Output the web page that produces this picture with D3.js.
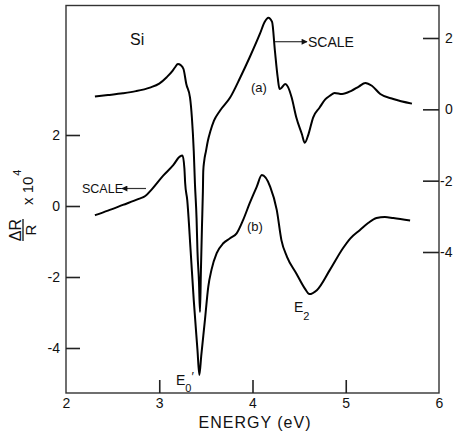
<!DOCTYPE html>
<html>
<head>
<meta charset="utf-8">
<script src="https://cdn.jsdelivr.net/npm/d3@7"></script>
<style>
  html, body { margin: 0; padding: 0; background: #fff; }
  svg { display: block; }
  text { font-family: "Liberation Sans", Arial, sans-serif; fill: #111; }
</style>
</head>
<body>
<svg id="chart" width="464" height="433"></svg>
<script>
// ---- data ----
// curve (a): read against the right-hand axis
const energyA = [2.31, 2.45, 2.61, 2.75, 2.90, 3.00, 3.08, 3.14, 3.17, 3.20, 3.23, 3.26, 3.29, 3.33, 3.35, 3.37, 3.383, 3.40, 3.41, 3.426, 3.437, 3.447, 3.458, 3.468, 3.472, 3.482, 3.501, 3.521, 3.549, 3.587, 3.651, 3.76, 3.87, 3.97, 4.08, 4.13, 4.17, 4.21, 4.24, 4.27, 4.29, 4.31, 4.35, 4.38, 4.42, 4.47, 4.53, 4.56, 4.60, 4.65, 4.72, 4.78, 4.83, 4.88, 4.96, 5.06, 5.14, 5.21, 5.28, 5.37, 5.51, 5.71];
const valuesA = [0.36, 0.40, 0.45, 0.51, 0.61, 0.72, 0.90, 1.07, 1.18, 1.27, 1.24, 1.13, 0.71, 0.33, -0.23, -1.17, -2.10, -3.05, -3.99, -4.83, -5.68, -4.50, -3.30, -2.30, -1.73, -1.45, -1.17, -0.89, -0.61, -0.32, -0.04, 0.33, 0.90, 1.46, 2.12, 2.45, 2.57, 2.45, 1.65, 0.90, 0.57, 0.60, 0.71, 0.63, 0.33, -0.23, -0.70, -0.94, -0.70, -0.23, 0.05, 0.28, 0.38, 0.46, 0.43, 0.52, 0.64, 0.74, 0.66, 0.43, 0.29, 0.16];
// curve (b): read against the left-hand axis
const energyB = [2.31, 2.45, 2.61, 2.78, 2.85, 2.92, 3.04, 3.15, 3.22, 3.25, 3.27, 3.278, 3.30, 3.336, 3.37, 3.41, 3.43, 3.45, 3.49, 3.526, 3.56, 3.616, 3.687, 3.759, 3.83, 3.90, 3.97, 4.045, 4.10, 4.19, 4.26, 4.31, 4.37, 4.47, 4.56, 4.61, 4.69, 4.83, 4.97, 5.05, 5.15, 5.24, 5.33, 5.42, 5.51, 5.69];
const valuesB = [-0.26, -0.13, 0.03, 0.20, 0.28, 0.47, 0.85, 1.15, 1.39, 1.42, 1.05, 0.64, 0.17, -1.24, -2.65, -4.06, -4.76, -4.23, -3.21, -2.27, -1.80, -1.33, -1.05, -0.91, -0.77, -0.39, 0.08, 0.54, 0.87, 0.54, -0.11, -0.96, -1.43, -1.90, -2.32, -2.48, -2.37, -1.80, -1.19, -0.91, -0.68, -0.48, -0.34, -0.31, -0.34, -0.41];
const xTicks = [2, 3, 4, 5, 6];
const yLeftTicks = [-4, -2, 0, 2];
const yRightTicks = [-4, -2, 0, 2];

// ---- layout ----
const L = 66, R = 439, T = 5.5, B = 393;
const svg = d3.select("#chart");
svg.append("rect").attr("width", 464).attr("height", 433).attr("fill", "#fff");

const x = d3.scaleLinear().domain([2, 6]).range([L, R]);
const yLeft = d3.scaleLinear().domain([-4, 2]).range([348, 135]);
const yRight = d3.scaleLinear().domain([-4, 2]).range([252, 38]);

// frame
svg.append("rect").attr("x", L).attr("y", T).attr("width", R - L).attr("height", B - T)
  .attr("fill", "none").attr("stroke", "#333").attr("stroke-width", 1.4);

const fmt = d => String(d);

// bottom axis
const gx = svg.append("g").attr("transform", `translate(0,${B})`)
  .call(d3.axisBottom(x).tickValues(xTicks).tickSize(-13).tickPadding(5).tickFormat(fmt));
// left axis
const gl = svg.append("g").attr("transform", `translate(${L},0)`)
  .call(d3.axisLeft(yLeft).tickValues(yLeftTicks).tickSize(-14).tickPadding(6).tickFormat(fmt));
// right axis
const gr = svg.append("g").attr("transform", `translate(${R},0)`)
  .call(d3.axisRight(yRight).tickValues(yRightTicks).tickSize(-16).tickPadding(6).tickFormat(fmt));

[gx, gl, gr].forEach(g => {
  g.select(".domain").remove();
  g.selectAll(".tick line").attr("stroke", "#222").attr("stroke-width", 1.6);
  g.selectAll(".tick text").attr("font-size", 14).attr("fill", "#111")
    .attr("font-family", "Liberation Sans, Arial, sans-serif");
});
gx.selectAll(".tick").filter(d => d === 2 || d === 6).select("line").remove();
gr.selectAll(".tick text").attr("x", d => d < 0 ? 1 : 6);

// curves
const lineA = d3.line().x(d => x(d[0])).y(d => yRight(d[1])).curve(d3.curveMonotoneX);
const lineB = d3.line().x(d => x(d[0])).y(d => yLeft(d[1])).curve(d3.curveMonotoneX);
svg.append("path").datum(energyA.map((e, i) => [e, valuesA[i]]))
  .attr("d", lineA).attr("fill", "none").attr("stroke", "#000").attr("stroke-width", 2)
  .attr("stroke-linejoin", "round");
svg.append("path").datum(energyB.map((e, i) => [e, valuesB[i]]))
  .attr("d", lineB).attr("fill", "none").attr("stroke", "#000").attr("stroke-width", 2)
  .attr("stroke-linejoin", "round");

// arrow markers
const defs = svg.append("defs");
defs.append("marker").attr("id", "arr").attr("viewBox", "0 0 10 10")
  .attr("refX", 9).attr("refY", 5).attr("markerWidth", 7).attr("markerHeight", 6)
  .attr("markerUnits", "userSpaceOnUse").attr("orient", "auto")
  .append("path").attr("d", "M0,0 L10,5 L0,10 z").attr("fill", "#111");

// text labels
svg.append("text").attr("x", 130).attr("y", 45).attr("font-size", 16).text("Si");
svg.append("text").attr("x", 251).attr("y", 92).attr("font-size", 13).text("(a)");
svg.append("text").attr("x", 247).attr("y", 231).attr("font-size", 13).text("(b)");

svg.append("line").attr("x1", 275).attr("y1", 41.7).attr("x2", 307).attr("y2", 41.7)
  .attr("stroke", "#333").attr("stroke-width", 1.2).attr("marker-end", "url(#arr)");
svg.append("text").attr("x", 308).attr("y", 47).attr("font-size", 14).text("SCALE");

svg.append("line").attr("x1", 146).attr("y1", 188.5).attr("x2", 122).attr("y2", 188.5)
  .attr("stroke", "#333").attr("stroke-width", 1.2).attr("marker-end", "url(#arr)");
svg.append("text").attr("x", 82).attr("y", 193).attr("font-size", 12.5).text("SCALE");

// E0' (single text element, no overlapping parts)
const e0 = svg.append("text").attr("x", 176).attr("y", 385).attr("font-size", 14);
e0.append("tspan").text("E");
e0.append("tspan").attr("font-size", 11).attr("dy", 7).text("0");
e0.append("tspan").attr("font-size", 13).attr("dx", 0).attr("dy", -11).text("′");
// E2
const e2 = svg.append("text").attr("x", 294).attr("y", 312).attr("font-size", 14);
e2.append("tspan").text("E");
e2.append("tspan").attr("font-size", 11).attr("dy", 8).text("2");

// x label
svg.append("text").attr("x", 255).attr("y", 428).attr("text-anchor", "middle")
  .attr("font-size", 16).attr("letter-spacing", 1).text("ENERGY (eV)");

// y label (rotated fraction)
const yl = svg.append("g").attr("transform", "translate(23,230) rotate(-90)");
yl.append("text").attr("x", 0).attr("y", -2).attr("text-anchor", "middle").attr("font-size", 16).text("ΔR");
yl.append("line").attr("x1", -11).attr("x2", 11).attr("y1", 0).attr("y2", 0)
  .attr("stroke", "#111").attr("stroke-width", 1.3);
yl.append("text").attr("x", 0).attr("y", 12.5).attr("text-anchor", "middle").attr("font-size", 15).text("R");
const yx = yl.append("text").attr("x", 25).attr("y", 10).attr("font-size", 15);
yx.append("tspan").text("x 10");
yx.append("tspan").attr("font-size", 11).attr("dx", 1).attr("dy", -12).text("4");
</script>
</body>
</html>
